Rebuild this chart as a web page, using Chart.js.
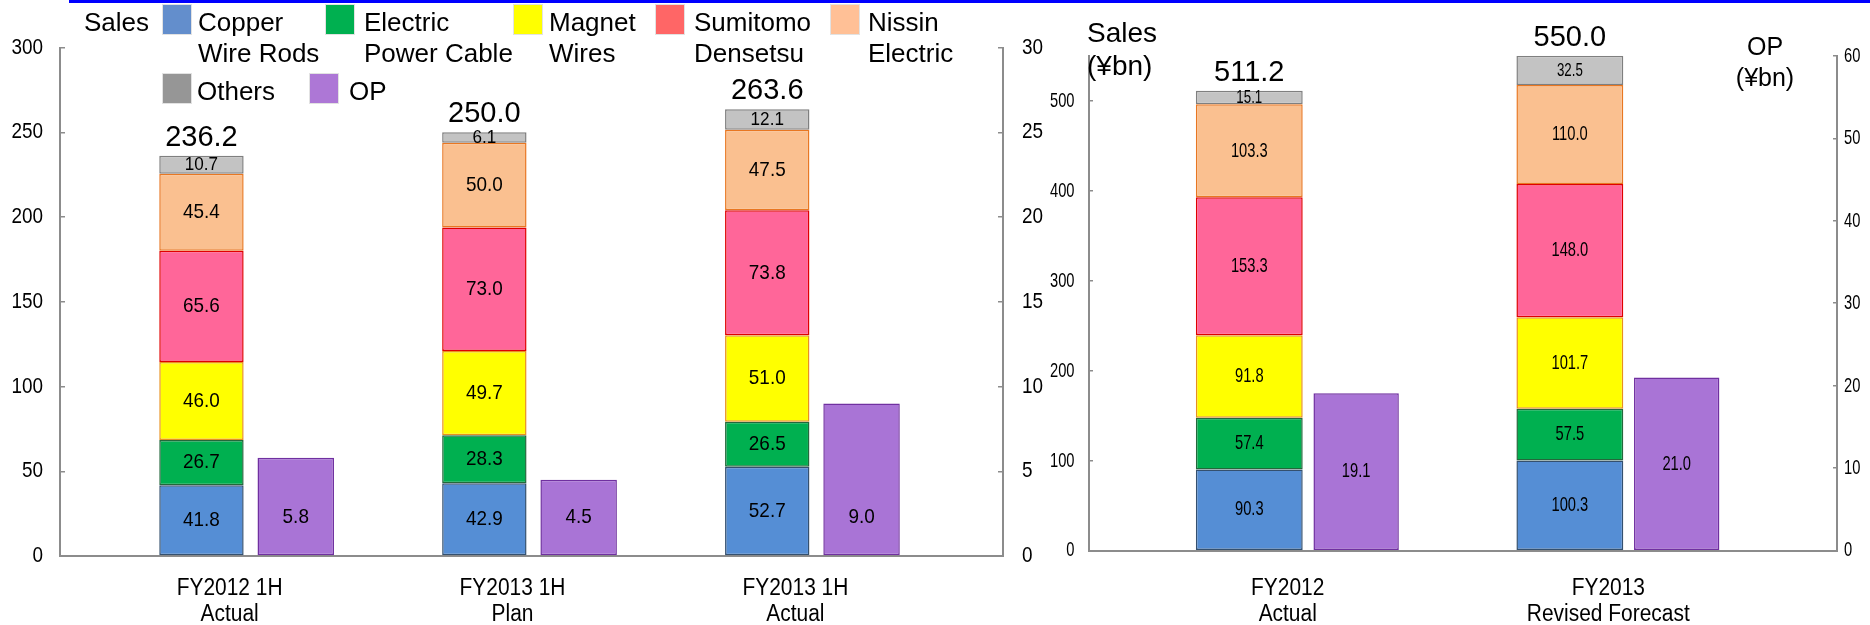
<!DOCTYPE html>
<html><head><meta charset="utf-8">
<script src="https://cdn.jsdelivr.net/npm/chart.js@4.4.1/dist/chart.umd.min.js"></script>
<style>
html,body{margin:0;padding:0;background:#fff;}
#wrap{position:relative;width:1870px;height:625px;overflow:hidden;font-family:'Liberation Sans',Arial,sans-serif;color:#000;}
canvas{position:absolute;left:0;top:0;}
.t{position:absolute;white-space:nowrap;}
.box{position:absolute;width:30px;height:31px;box-sizing:border-box;border:1px solid #e2e2e2;}
</style></head>
<body><div id="wrap">
<div style="position:absolute;left:69px;top:0;width:1801px;height:3px;background:#0000ff"></div>
<canvas id="c1" width="1870" height="625"></canvas>
<canvas id="c2" width="1870" height="625"></canvas>
<div id="legend"></div>
<div class="t" style="left:1087px;top:16px;font-size:28px;line-height:33px;">Sales<br>(¥bn)</div>
<div class="t" style="left:1705px;width:120px;top:30.5px;font-size:25px;line-height:31.7px;text-align:center;">OP<br>(¥bn)</div>
</div>
<script>
// ---------- data ----------
const seriesNames = [["Copper","Wire Rods"],["Electric","Power Cable"],["Magnet","Wires"],["Sumitomo","Densetsu"],["Nissin","Electric"],["Others"],["OP"]];

const leftCategories = [["FY2012 1H","Actual"],["FY2013 1H","Plan"],["FY2013 1H","Actual"]];
const leftCopper   = [41.8, 42.9, 52.7];
const leftElectric = [26.7, 28.3, 26.5];
const leftMagnet   = [46.0, 49.7, 51.0];
const leftSumitomo = [65.6, 73.0, 73.8];
const leftNissin   = [45.4, 50.0, 47.5];
const leftOthers   = [10.7, 6.1, 12.1];
const leftOP       = [5.8, 4.5, 9.0];

const rightCategories = [["FY2012","Actual"],["FY2013","Revised Forecast"]];
const rightCopper   = [90.3, 100.3];
const rightElectric = [57.4, 57.5];
const rightMagnet   = [91.8, 101.7];
const rightSumitomo = [153.3, 148.0];
const rightNissin   = [103.3, 110.0];
const rightOthers   = [15.1, 32.5];
const rightOP       = [19.1, 21.0];

// ---------- styles ----------
const FONT = "'Liberation Sans', Arial, sans-serif";
const AXIS = '#8c8c8c';
const barFill = ['#558ED5','#00B050','#FFFF00','#FF6699','#FAC090','#C3C3C3','#A974D6'];
const barEdge = ['#34506F','#23683B','#E8901F','#E00000','#E87722','#7F7F7F','#7030A0'];
const legendFill = ['#638ECC','#00B050','#FFFF00','#FF6666','#FFC096','#969696','#AD77D6'];
const legendBox = [[162,4],[325,4],[513,4],[655,4],[830,4],[162,73],[309,73]];
const legendText = [[198,7.2],[364,7.2],[549,7.2],[694,7.2],[868,7.2],[197,75.5],[349,75.5]];

// ---------- legend (HTML) ----------
(function(){
  const lg = document.getElementById('legend');
  let h = '<div class="t" style="left:84px;top:7.2px;font-size:26px;line-height:31px;">Sales</div>';
  seriesNames.forEach((nm, i) => {
    h += `<div class="box" style="left:${legendBox[i][0]}px;top:${legendBox[i][1]}px;background:${legendFill[i]}"></div>`;
    h += `<div class="t" style="left:${legendText[i][0]}px;top:${legendText[i][1]}px;font-size:26px;line-height:31px;">${nm.join('<br>')}</div>`;
  });
  lg.innerHTML = h;
})();

Chart.defaults.font.family = FONT;
Chart.defaults.color = '#000';

const toXY = arr => arr.map((v, i) => ({x: i, y: v}));

// horizontal text compression (condensed chart fonts), keyed by font size
const condensePlugin = {
  id: 'condense',
  beforeInit(chart, args, opts) {
    const ctx = chart.ctx;
    const orig = ctx.fillText;
    const map = opts.map || {};
    ctx.fillText = function(text, x, y, maxWidth) {
      const m = /(\d+(?:\.\d+)?)px/.exec(this.font);
      const sx = m ? (map[parseFloat(m[1])] || 1) : 1;
      if (sx === 1) {
        return maxWidth === undefined ? orig.call(this, text, x, y) : orig.call(this, text, x, y, maxWidth);
      }
      this.save();
      this.translate(x, y);
      this.scale(sx, 1);
      if (maxWidth === undefined) orig.call(this, text, 0, 0); else orig.call(this, text, 0, 0, maxWidth / sx);
      this.restore();
    };
  }
};

const labelPlugin = {
  id: 'segLabels',
  afterDatasetsDraw(chart, args, opts) {
    const ctx = chart.ctx;
    ctx.save();
    ctx.fillStyle = '#000';
    ctx.textAlign = 'center';
    ctx.textBaseline = 'middle';
    const totals = [];
    let topEls = [];
    chart.data.datasets.forEach((ds, di) => {
      const meta = chart.getDatasetMeta(di);
      meta.data.forEach((el, i) => {
        const v = ds.data[i].y;
        const p = el.getProps(['x','y','base'], true);
        let cy = (p.y + p.base) / 2;
        if (ds.stack === 'op' && opts.opFromBase) cy = Math.max(cy, p.base - opts.opFromBase);
        ctx.font = `${ds.labelSize}px ${FONT}`;
        ctx.fillText(v.toFixed(1), p.x, cy);
        if (ds.stack === 'sales') {
          totals[i] = (totals[i] || 0) + v;
          topEls[i] = p;
        }
      });
    });
    ctx.font = `29px ${FONT}`;
    ctx.textBaseline = 'alphabetic';
    totals.forEach((t, i) => {
      const p = topEls[i];
      ctx.fillText(t.toFixed(1), p.x, Math.min(p.y, p.base) - 10);
    });
    ctx.restore();
  }
};

function makeDatasets(vals, op, salesPct, opPct) {
  const ds = vals.map((arr, si) => ({
    label: seriesNames[si].join(' '),
    data: toXY(arr),
    stack: 'sales', yAxisID: 'y',
    backgroundColor: barFill[si], borderColor: barEdge[si],
    borderWidth: 1.5, borderSkipped: false,
    barPercentage: salesPct, categoryPercentage: 2/3,
    labelSize: si === 5 ? 19 : 21
  }));
  ds.push({
    label: 'OP', data: toXY(op), stack: 'op', yAxisID: 'y2',
    backgroundColor: barFill[6], borderColor: barEdge[6],
    borderWidth: 1.5, borderSkipped: false,
    barPercentage: opPct, categoryPercentage: 2/3, labelSize: 21
  });
  return ds;
}

function yAxis(pos, max, step, size, pad, tl, width) {
  return {
    position: pos, stacked: true, min: 0, max: max, bounds: 'data',
    ticks: {stepSize: step, includeBounds: false, font: {size: size}, color: '#000', padding: pad},
    grid: {drawOnChartArea: false, tickLength: tl, color: AXIS, lineWidth: 1.5},
    border: {display: true, color: AXIS, width: 2},
    afterBuildTicks: s => { s.ticks = s.ticks.filter(t => Math.abs(t.value / step - Math.round(t.value / step)) < 1e-9); },
    afterFit: s => { s.width = width; }
  };
}

function xAxis(cats, height, pad, offset) {
  return {
    type: 'linear', min: -2/3, max: cats.length - 1 + 2/3, offset: false, bounds: 'data',
    afterBuildTicks: s => { s.ticks = cats.map((_, i) => ({value: i})); },
    afterFit: s => { s.height = height; },
    grid: {display: false, drawTicks: false},
    border: {display: true, color: AXIS, width: 2},
    ticks: {callback: v => cats[v], font: {size: 23, lineHeight: 1.15}, color: '#000',
            padding: pad, labelOffset: offset, maxRotation: 0, minRotation: 0, autoSkip: false}
  };
}

new Chart(document.getElementById('c1'), {
  type: 'bar',
  data: {datasets: makeDatasets([leftCopper, leftElectric, leftMagnet, leftSumitomo, leftNissin, leftOthers], leftOP, 0.895, 0.811)},
  options: {
    responsive: false, animation: false, devicePixelRatio: 1,
    layout: {padding: {left: 0, right: 807, top: 47.6, bottom: 0}},
    plugins: {legend: {display: false}, tooltip: {enabled: false},
              condense: {map: {22: 0.86, 23: 0.91, 21: 0.9, 19: 0.9}},
              segLabels: {opFromBase: 38}},
    scales: {
      x: xAxis(leftCategories, 69, 19, -19),
      y: yAxis('left', 300, 50, 22, 22, -5, 60),
      y2: yAxis('right', 30, 5, 22, 24, -5, 60)
    }
  },
  plugins: [condensePlugin, labelPlugin]
});

new Chart(document.getElementById('c2'), {
  type: 'bar',
  data: {datasets: makeDatasets([rightCopper, rightElectric, rightMagnet, rightSumitomo, rightNissin, rightOthers], rightOP, 1.0, 0.799)},
  options: {
    responsive: false, animation: false, devicePixelRatio: 1,
    layout: {padding: {left: 1029, right: 0, top: 55.8, bottom: 0}},
    plugins: {legend: {display: false}, tooltip: {enabled: false},
              condense: {map: {21: 0.7, 23: 0.91, 19: 0.7}},
              segLabels: {opFromBase: 0}},
    scales: {
      x: xAxis(rightCategories, 74.3, 24.6, -15),
      y: yAxis('left', 550, 100, 21, 18.5, -4, 60),
      y2: yAxis('right', 60, 10, 21, 11, -4, 33)
    }
  },
  plugins: [condensePlugin, labelPlugin]
});
</script>
</body></html>
